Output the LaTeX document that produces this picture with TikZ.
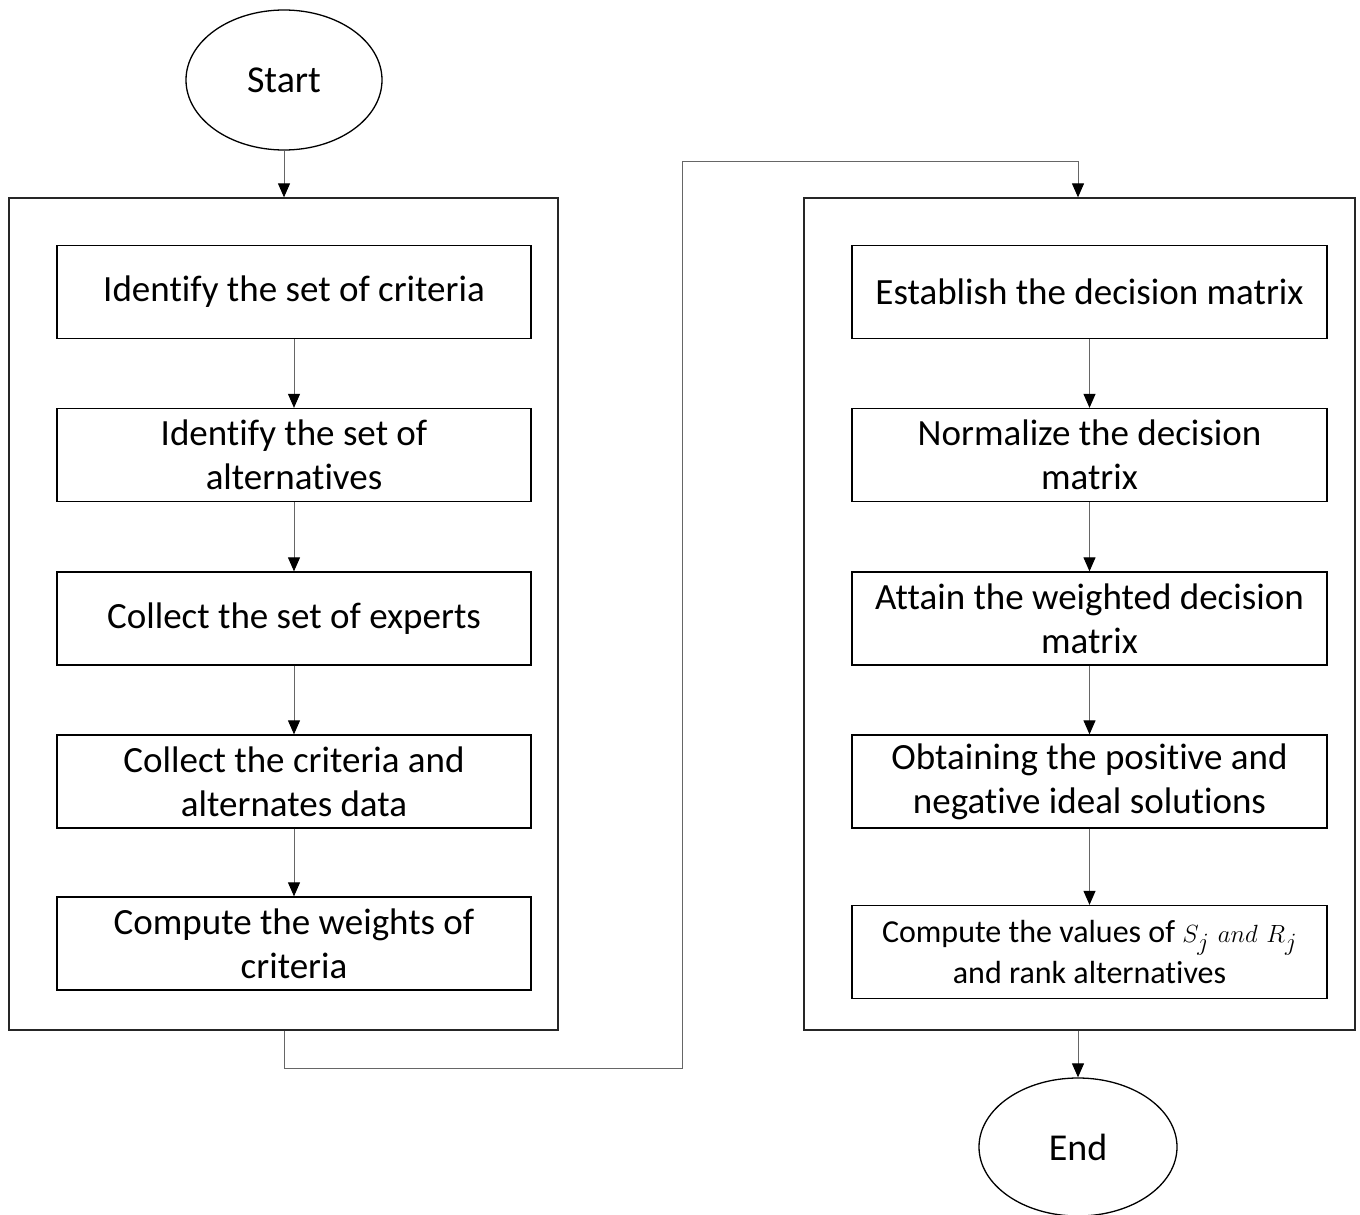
\documentclass[tikz,border=0pt]{standalone}
\usepackage{fontspec}
\setmainfont{Carlito}[Ligatures={NoCommon}]
\usetikzlibrary{arrows.meta,shapes.geometric}
\begin{document}
\begin{tikzpicture}[x=1pt,y=-1pt,
  panel/.style={draw=black!85, line width=1.3pt},
  stepbox/.style={draw=black, line width=1.3pt, minimum width=474pt, minimum height=93pt, align=center, font=\fontsize{37}{44}\selectfont, inner sep=0pt},
  term/.style={draw=black, line width=1.3pt, ellipse, minimum width=196pt, minimum height=140pt, font=\fontsize{38}{44}\selectfont, inner sep=0pt},
  conn/.style={draw=black!60, line width=1pt},
  arr/.style={conn, -{Triangle[width=12pt,length=14pt,color=black]}}]
\useasboundingbox (0,0) rectangle (1360,1215);
% panels
\node[panel, minimum width=549pt, minimum height=832pt, inner sep=0pt] (lp) at (283.5,614) {};
\node[panel, minimum width=551pt, minimum height=832pt, inner sep=0pt] (rp) at (1079.5,614) {};
% terminals
\node[term] (start) at (284,80) {Start};
\node[term, minimum width=198pt, minimum height=138pt] (end) at (1078,1147) {End};
% left steps
\node[stepbox] (l1) at (294,292) {Identify the set of criteria};
\node[stepbox] (l2) at (294,455) {Identify the set of\\alternatives};
\node[stepbox] (l3) at (294,618.5) {Collect the set of experts};
\node[stepbox] (l4) at (294,781.5) {Collect the criteria and\\alternates data};
\node[stepbox] (l5) at (294,943.5) {Compute the weights of\\criteria};
% right steps
\node[stepbox, minimum width=475pt] (r1) at (1089.5,292) {Establish the decision matrix};
\node[stepbox, minimum width=475pt] (r2) at (1089.5,455) {Normalize the decision\\matrix};
\node[stepbox, minimum width=475pt] (r3) at (1089.5,618.5) {Attain the weighted decision\\matrix};
\node[stepbox, minimum width=475pt] (r4) at (1089.5,781.5) {Obtaining the positive and\\negative ideal solutions};
\node[stepbox, minimum width=475pt, font=\fontsize{32}{41}\selectfont] (r5) at (1089.5,952) {Compute the values of {\fontsize{38}{41}\selectfont$S_j\ and\ R_j$}\\and rank alternatives};
% arrows
\draw[arr] (start.south) -- (start.south |- lp.north);
\foreach \a/\b in {l1/l2,l2/l3,l3/l4,l4/l5,r1/r2,r2/r3,r3/r4,r4/r5}{
  \draw[arr] (\a.south) -- (\b.north);
}
\coordinate (c1) at (284,1068);
\coordinate (c2) at (682,1068);
\coordinate (c3) at (682,161);
\coordinate (c4) at (1078,161);
\draw[arr] (lp.south -| c1) -- (c1) -- (c2) -- (c3) -- (c4) -- (c4 |- rp.north);
\draw[arr] (rp.south -| end.north) -- (end.north);
\end{tikzpicture}
\end{document}
